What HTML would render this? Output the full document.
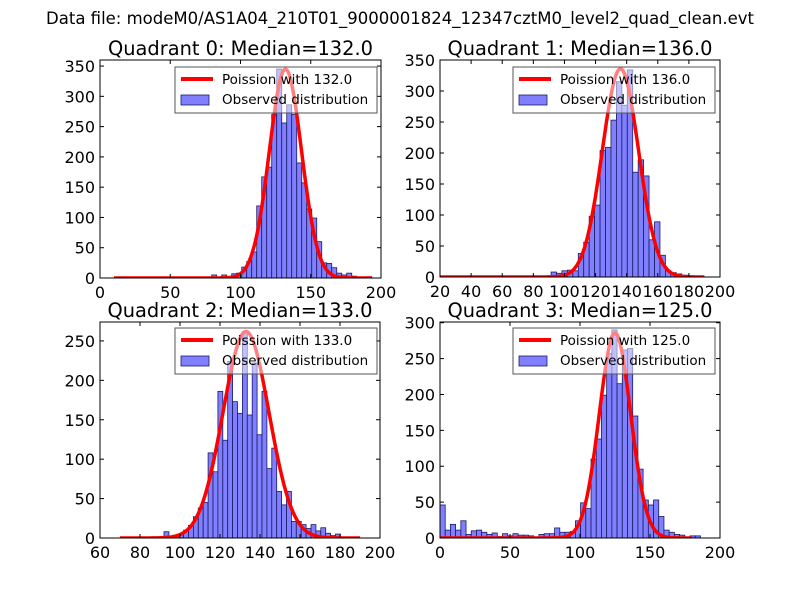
<!DOCTYPE html>
<html><head><meta charset="utf-8"><style>
body{margin:0;background:#fff;}
svg text{font-family:"DejaVu Sans","Liberation Sans",sans-serif;}
</style></head><body>
<svg id="c" width="800" height="600" xmlns="http://www.w3.org/2000/svg">
<text x="400" y="24" font-size="16.5" text-anchor="middle">Data file: modeM0/AS1A04_210T01_9000001824_12347cztM0_level2_quad_clean.evt</text>
</svg>
<script>
// Quadrant 0
const q0Start = 79.5, q0Width = 3.56;
const q0Counts = [5,0,5,0,7,8,18,27,43,119,167,183,270,345,256,286,270,190,157,114,99,60,25,24,17,8,5,8,3,0,0,2];
const q0Median = 132, q0Peak = 345;
const q0XTicks = [0,50,100,150,200], q0YTicks = [0,50,100,150,200,250,300,350];
// Quadrant 1
const q1Start = 91.4, q1Width = 3.5;
const q1Counts = [8,6,10,11,10,38,56,98,116,204,209,253,315,277,334,169,189,163,60,89,35,10,7,5,3];
const q1Median = 136, q1Peak = 336;
const q1XTicks = [20,40,60,80,100,120,140,160,180,200], q1YTicks = [0,50,100,150,200,250,300,350];
// Quadrant 2
const q2Start = 92, q2Width = 2.45;
const q2Counts = [8,0,0,4,10,16,27,38,45,108,84,186,124,224,173,158,262,156,222,131,186,88,114,59,42,59,21,21,17,12,17,9,13,6,3,5];
const q2Median = 133, q2Peak = 262;
const q2XTicks = [60,80,100,120,140,160,180,200], q2YTicks = [0,50,100,150,200,250];
// Quadrant 3
const q3Start = 0, q3Width = 3.72;
const q3Counts = [46,11,19,11,24,5,10,11,8,5,7,2,6,3,6,4,4,3,0,5,6,6,14,8,8,9,24,49,41,110,138,199,257,290,215,262,264,170,96,53,46,53,30,11,8,5,4,1,3,3];
const q3Median = 125, q3Peak = 286;
const q3XTicks = [0,50,100,150,200], q3YTicks = [0,50,100,150,200,250,300];

const NS = "http://www.w3.org/2000/svg";
const svg = document.getElementById('c');
function mk(tag, attrs, parent){
  const e = document.createElementNS(NS, tag);
  for (const k in attrs) e.setAttribute(k, attrs[k]);
  (parent||svg).appendChild(e); return e;
}
const panels = [
  {q:0, L:100, T:60, W:281, H:218, xmin:0, xmax:200, ymax:360, start:q0Start, w:q0Width, counts:q0Counts, med:q0Median, peak:q0Peak, xt:q0XTicks, yt:q0YTicks, c0:10, c1:193, legX:175, legY:67},
  {q:1, L:440, T:60, W:280, H:217, xmin:20, xmax:200, ymax:350, start:q1Start, w:q1Width, counts:q1Counts, med:q1Median, peak:q1Peak, xt:q1XTicks, yt:q1YTicks, c0:20, c1:190, legX:513, legY:67},
  {q:2, L:100, T:322, W:280, H:216, xmin:60, xmax:200, ymax:274, start:q2Start, w:q2Width, counts:q2Counts, med:q2Median, peak:q2Peak, xt:q2XTicks, yt:q2YTicks, c0:70, c1:190, legX:175, legY:328},
  {q:3, L:440, T:322, W:280, H:216, xmin:0, xmax:200, ymax:301, start:q3Start, w:q3Width, counts:q3Counts, med:q3Median, peak:q3Peak, xt:q3XTicks, yt:q3YTicks, c0:0, c1:180, legX:513, legY:328}
];
panels.forEach(p => {
  const g = mk('g', {});
  
  
  const sx = v => p.L + (v - p.xmin) / (p.xmax - p.xmin) * p.W;
  const sy = v => p.T + p.H - v / p.ymax * p.H;
  const clipId = 'clip' + p.q;
  const cp = mk('clipPath', {id: clipId}, g);
  mk('rect', {x:p.L, y:p.T, width:p.W, height:p.H}, cp);
  const plot = mk('g', {'clip-path':'url(#'+clipId+')'}, g);
  p.counts.forEach((c, i) => {
    if (c <= 0) return;
    const x0 = sx(p.start + i * p.w), x1 = sx(p.start + (i + 1) * p.w);
    const r = mk('rect', {x:x0, y:sy(c), width:x1 - x0, height:sy(0) - sy(c), fill:'#8080ff', stroke:'#1a1a66', 'stroke-width':0.8}, plot);
    
    
  });
  let d = '';
  for (let x = p.c0; x <= p.c1; x += 1) {
    const v = p.peak * Math.exp(-Math.pow(x - p.med, 2) / (2 * p.med));
    d += (d ? 'L' : 'M') + sx(x).toFixed(1) + ',' + sy(v).toFixed(1);
  }
  const ln = mk('path', {d:d, fill:'none', stroke:'#ff0000', 'stroke-width':3.5, 'stroke-linejoin':'round'}, plot);
  
  
  const fr = mk('rect', {x:p.L, y:p.T, width:p.W, height:p.H, fill:'none', stroke:'#000', 'stroke-width':1}, g);
  
  
  p.xt.forEach(t => {
    const x = sx(t);
    mk('line', {x1:x, x2:x, y1:p.T + p.H, y2:p.T + p.H - 4, stroke:'#000'}, g);
    mk('line', {x1:x, x2:x, y1:p.T, y2:p.T + 4, stroke:'#000'}, g);
    const tx = mk('text', {x:x, y:p.T + p.H + 20, 'font-size':16, 'text-anchor':'middle'}, g);
    tx.textContent = t;
    
    
  });
  p.yt.forEach(t => {
    const y = sy(t);
    mk('line', {x1:p.L, x2:p.L + 4, y1:y, y2:y, stroke:'#000'}, g);
    mk('line', {x1:p.L + p.W, x2:p.L + p.W - 4, y1:y, y2:y, stroke:'#000'}, g);
    const tx = mk('text', {x:p.L - 5, y:y + 6, 'font-size':16, 'text-anchor':'end'}, g);
    tx.textContent = t;
    
    
  });
  const ti = mk('text', {x:p.L + p.W / 2, y:p.T - 5, 'font-size':19.4, 'text-anchor':'middle'}, g);
  ti.textContent = 'Quadrant ' + p.q + ': Median=' + p.med.toFixed(1);
  
  
  const lg = mk('g', {}, g);
  
  
  mk('rect', {x:p.legX, y:p.legY, width:202, height:46, fill:'#fff', 'fill-opacity':0.5, stroke:'#555', 'stroke-width':1}, lg);
  mk('line', {x1:p.legX + 6, x2:p.legX + 38, y1:p.legY + 12, y2:p.legY + 12, stroke:'#ff0000', 'stroke-width':4}, lg);
  const t1 = mk('text', {x:p.legX + 47, y:p.legY + 17, 'font-size':13.5}, lg);
  t1.textContent = 'Poission with ' + p.med.toFixed(1);
  
  
  mk('rect', {x:p.legX + 6, y:p.legY + 28, width:28, height:10, fill:'#8080ff', stroke:'#1a1a66', 'stroke-width':0.8}, lg);
  const t2 = mk('text', {x:p.legX + 47, y:p.legY + 37, 'font-size':13.5}, lg);
  t2.textContent = 'Observed distribution';
  
  
});
</script>
</body></html>
